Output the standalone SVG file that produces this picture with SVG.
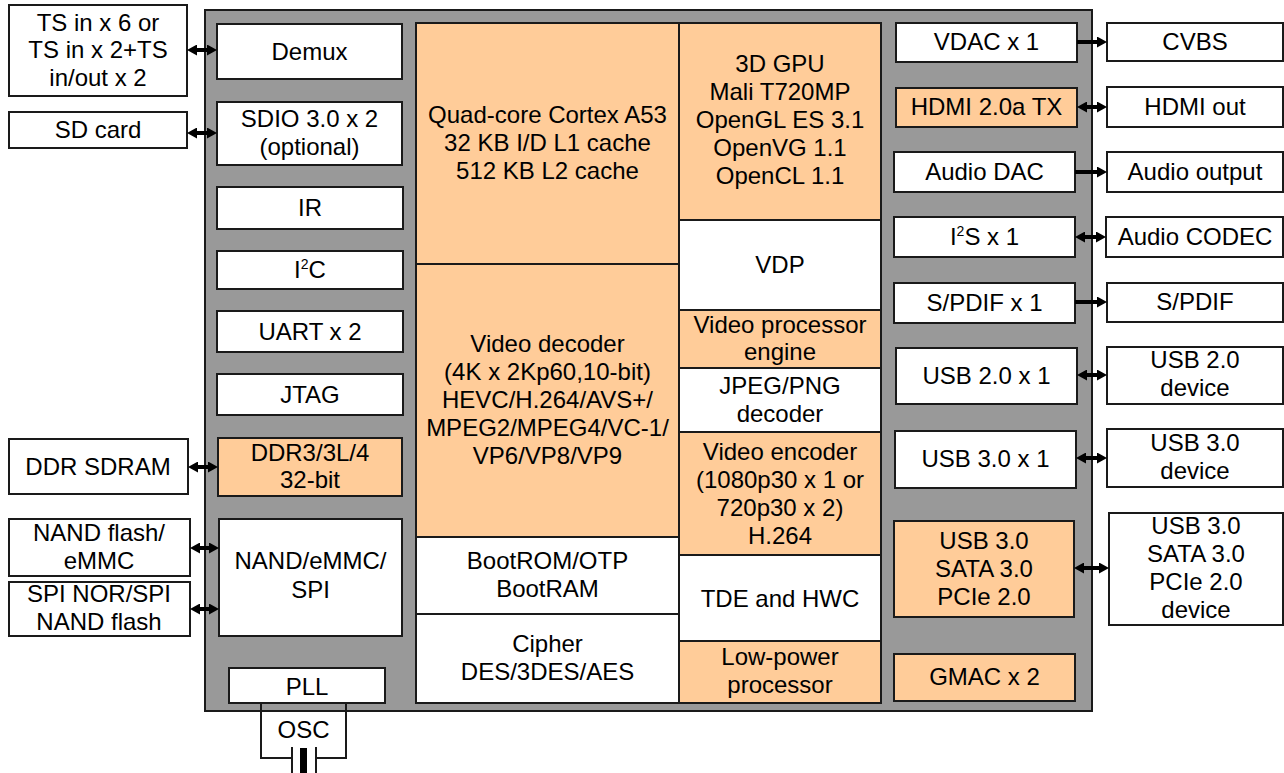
<svg xmlns="http://www.w3.org/2000/svg" width="1284" height="773" viewBox="0 0 1284 773">
<defs>
<style>
.b{fill:#ffffff;stroke:#1a1a1a;stroke-width:2}
.o{fill:#ffcc99;stroke:#1a1a1a;stroke-width:2}
.g{fill:#999999;stroke:#1a1a1a;stroke-width:2}
text{font-family:"Liberation Sans",Arial,sans-serif;font-size:24px;fill:#000;text-anchor:middle}
.sup{font-size:14px}
.a{stroke:#000;stroke-width:4;fill:none}
.w{stroke:#1a1a1a;stroke-width:2;fill:none}
</style>
<marker id="h" viewBox="0 0 10 11" refX="0" refY="5.5" markerWidth="10" markerHeight="11" markerUnits="userSpaceOnUse" orient="auto-start-reverse">
<path d="M0,0 L10,5.5 L0,11 z" fill="#000"/>
</marker>
</defs>
<rect width="1284" height="773" fill="#ffffff"/>
<g id="chip"><rect class="g" x="205" y="10" width="887" height="701"/></g>

<g id="ts"><rect class="b" x="9" y="5" width="178" height="91"/><text x="98" y="31">TS in x 6 or</text><text x="98" y="58">TS in x 2+TS</text><text x="98" y="86">in/out x 2</text></g>
<g id="sdcard"><rect class="b" x="9" y="112" width="178" height="36"/><text x="98" y="138">SD card</text></g>
<g id="ddrsdram"><rect class="b" x="9" y="439" width="179" height="55"/><text x="98" y="475">DDR SDRAM</text></g>
<g id="nandflash"><rect class="b" x="9" y="519" width="181" height="57"/><text x="99" y="541">NAND flash/</text><text x="99" y="569">eMMC</text></g>
<g id="spinor"><rect class="b" x="9" y="582" width="181" height="54"/><text x="99" y="602">SPI NOR/SPI</text><text x="99" y="630">NAND flash</text></g>

<g id="demux"><rect class="b" x="217" y="24" width="185" height="55"/><text x="309.5" y="60">Demux</text></g>
<g id="sdio"><rect class="b" x="217" y="102" width="185" height="63"/><text x="309.5" y="127">SDIO 3.0 x 2</text><text x="309.5" y="155">(optional)</text></g>
<g id="ir"><rect class="b" x="217" y="187" width="186" height="42"/><text x="310" y="216">IR</text></g>
<g id="i2c"><rect class="b" x="217" y="251" width="186" height="38"/><text x="310" y="278">I<tspan class="sup" dy="-9">2</tspan><tspan dy="9">C</tspan></text></g>
<g id="uart"><rect class="b" x="217" y="311" width="186" height="41"/><text x="310" y="340">UART x 2</text></g>
<g id="jtag"><rect class="b" x="217" y="374" width="186" height="41"/><text x="310" y="403">JTAG</text></g>
<g id="ddr"><rect class="o" x="218" y="438" width="184" height="58"/><text x="310" y="461">DDR3/3L/4</text><text x="310" y="488">32-bit</text></g>
<g id="nand"><rect class="b" x="219" y="519" width="183" height="117"/><text x="310.5" y="569">NAND/eMMC/</text><text x="310.5" y="598">SPI</text></g>
<g id="pll"><rect class="b" x="229" y="668" width="156" height="35"/><text x="307" y="695">PLL</text></g>

<g id="cpu"><rect class="o" x="416" y="23" width="263" height="241"/><text x="547.5" y="123">Quad-core Cortex A53</text><text x="547.5" y="151">32 KB I/D L1 cache</text><text x="547.5" y="179">512 KB L2 cache</text></g>
<g id="vdec"><rect class="o" x="416" y="264" width="263" height="273"/><text x="547.5" y="352">Video decoder</text><text x="547.5" y="380">(4K x 2Kp60,10-bit)</text><text x="547.5" y="408">HEVC/H.264/AVS+/</text><text x="547.5" y="436">MPEG2/MPEG4/VC-1/</text><text x="547.5" y="464">VP6/VP8/VP9</text></g>
<g id="boot"><rect class="b" x="416" y="537" width="263" height="77"/><text x="547.5" y="569">BootROM/OTP</text><text x="547.5" y="597">BootRAM</text></g>
<g id="cipher"><rect class="b" x="416" y="614" width="263" height="89"/><text x="547.5" y="652">Cipher</text><text x="547.5" y="680">DES/3DES/AES</text></g>

<g id="gpu"><rect class="o" x="679" y="23" width="202" height="197"/><text x="780" y="72">3D GPU</text><text x="780" y="100">Mali T720MP</text><text x="780" y="128">OpenGL ES 3.1</text><text x="780" y="156">OpenVG 1.1</text><text x="780" y="184">OpenCL 1.1</text></g>
<g id="vdp"><rect class="b" x="679" y="220" width="202" height="90"/><text x="780" y="273">VDP</text></g>
<g id="vpe"><rect class="o" x="679" y="310" width="202" height="58"/><text x="780" y="333">Video processor</text><text x="780" y="360">engine</text></g>
<g id="jpeg"><rect class="b" x="679" y="368" width="202" height="64"/><text x="780" y="394">JPEG/PNG</text><text x="780" y="422">decoder</text></g>
<g id="venc"><rect class="o" x="679" y="432" width="202" height="123"/><text x="780" y="460">Video encoder</text><text x="780" y="488">(1080p30 x 1 or</text><text x="780" y="516">720p30 x 2)</text><text x="780" y="544">H.264</text></g>
<g id="tde"><rect class="b" x="679" y="555" width="202" height="86"/><text x="780" y="607">TDE and HWC</text></g>
<g id="lpp"><rect class="o" x="679" y="641" width="202" height="62"/><text x="780" y="665">Low-power</text><text x="780" y="693">processor</text></g>

<g id="vdac"><rect class="b" x="896" y="23" width="181" height="39"/><text x="986.5" y="50">VDAC x 1</text></g>
<g id="hdmitx"><rect class="o" x="896" y="88" width="181" height="39"/><text x="986.5" y="115">HDMI 2.0a TX</text></g>
<g id="adac"><rect class="b" x="894" y="152" width="181" height="40"/><text x="984.5" y="180">Audio DAC</text></g>
<g id="i2s"><rect class="b" x="894" y="217" width="181" height="40"/><text x="984.5" y="245">I<tspan class="sup" dy="-9">2</tspan><tspan dy="9">S x 1</tspan></text></g>
<g id="spdifx1"><rect class="b" x="894" y="283" width="181" height="40"/><text x="984.5" y="311">S/PDIF x 1</text></g>
<g id="usb2"><rect class="b" x="896" y="348" width="181" height="56"/><text x="986.5" y="384">USB 2.0 x 1</text></g>
<g id="usb3"><rect class="b" x="895" y="431" width="181" height="57"/><text x="985.5" y="467">USB 3.0 x 1</text></g>
<g id="combo"><rect class="o" x="894" y="521" width="180" height="96"/><text x="984" y="549">USB 3.0</text><text x="984" y="577">SATA 3.0</text><text x="984" y="605">PCIe 2.0</text></g>
<g id="gmac"><rect class="o" x="894" y="654" width="181" height="47"/><text x="984.5" y="685">GMAC x 2</text></g>

<g id="cvbs"><rect class="b" x="1107" y="23" width="176" height="38"/><text x="1195" y="50">CVBS</text></g>
<g id="hdmiout"><rect class="b" x="1107" y="87" width="176" height="40"/><text x="1195" y="115">HDMI out</text></g>
<g id="aout"><rect class="b" x="1107" y="152" width="176" height="40"/><text x="1195" y="180">Audio output</text></g>
<g id="codec"><rect class="b" x="1106" y="217" width="177" height="40"/><text x="1195" y="245">Audio CODEC</text></g>
<g id="spdif"><rect class="b" x="1107" y="283" width="176" height="39"/><text x="1195" y="310">S/PDIF</text></g>
<g id="usb2dev"><rect class="b" x="1107" y="347" width="176" height="57"/><text x="1195" y="368">USB 2.0</text><text x="1195" y="396">device</text></g>
<g id="usb3dev"><rect class="b" x="1107" y="429" width="176" height="58"/><text x="1195" y="451">USB 3.0</text><text x="1195" y="479">device</text></g>
<g id="combodev"><rect class="b" x="1109" y="513" width="174" height="112"/><text x="1196" y="534">USB 3.0</text><text x="1196" y="562">SATA 3.0</text><text x="1196" y="590">PCIe 2.0</text><text x="1196" y="618">device</text></g>

<g id="osc">
<path class="w" d="M261,703 V758 H292 M346,703 V758 H316 M292,747 V773 M316,747 V773"/>
<rect x="300" y="748" width="7" height="25" fill="#000"/>
<text x="303.5" y="738">OSC</text>
</g>

<g id="connectors">
<line class="a" x1="197" y1="50" x2="207" y2="50" marker-start="url(#h)" marker-end="url(#h)"/>
<line class="a" x1="197" y1="133" x2="207" y2="133" marker-start="url(#h)" marker-end="url(#h)"/>
<line class="a" x1="198" y1="467" x2="208" y2="467" marker-start="url(#h)" marker-end="url(#h)"/>
<line class="a" x1="200" y1="548" x2="209" y2="548" marker-start="url(#h)" marker-end="url(#h)"/>
<line class="a" x1="200" y1="609" x2="209" y2="609" marker-start="url(#h)" marker-end="url(#h)"/>
<line class="a" x1="1077" y1="42" x2="1097" y2="42" marker-end="url(#h)"/>
<line class="a" x1="1087" y1="107" x2="1097" y2="107" marker-start="url(#h)" marker-end="url(#h)"/>
<line class="a" x1="1075" y1="172" x2="1097" y2="172" marker-end="url(#h)"/>
<line class="a" x1="1085" y1="237" x2="1096" y2="237" marker-start="url(#h)" marker-end="url(#h)"/>
<line class="a" x1="1075" y1="302" x2="1097" y2="302" marker-end="url(#h)"/>
<line class="a" x1="1087" y1="375" x2="1097" y2="375" marker-start="url(#h)" marker-end="url(#h)"/>
<line class="a" x1="1086" y1="458" x2="1097" y2="458" marker-start="url(#h)" marker-end="url(#h)"/>
<line class="a" x1="1084" y1="568" x2="1099" y2="568" marker-start="url(#h)" marker-end="url(#h)"/>
</g>
</svg>
